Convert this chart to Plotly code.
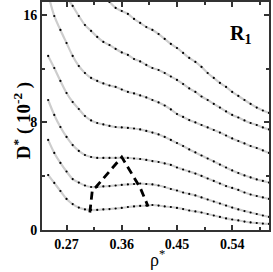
import plotly.graph_objects as go

rho = [0.24, 0.25, 0.26, 0.27, 0.28, 0.29, 0.30, 0.31, 0.32, 0.33, 0.34, 0.35,
       0.36, 0.37, 0.38, 0.39, 0.40, 0.41, 0.42, 0.43, 0.44, 0.45, 0.46, 0.47,
       0.48, 0.49, 0.50, 0.51, 0.52, 0.53, 0.54, 0.55, 0.56, 0.57, 0.58, 0.59, 0.60]

d1 = [4.09, 3.50, 2.90, 2.31, 1.93, 1.67, 1.53, 1.49, 1.49, 1.53, 1.56, 1.60,
      1.64, 1.71, 1.75, 1.79, 1.82, 1.86, 1.82, 1.75, 1.71, 1.64, 1.56, 1.45,
      1.38, 1.30, 1.19, 1.08, 0.97, 0.86, 0.78, 0.71, 0.63, 0.56, 0.52, 0.48, 0.45]
d2 = [6.70, 5.73, 4.99, 4.35, 3.79, 3.53, 3.31, 3.20, 3.20, 3.24, 3.27, 3.31,
      3.35, 3.39, 3.42, 3.46, 3.42, 3.39, 3.31, 3.20, 3.05, 2.94, 2.79, 2.68,
      2.57, 2.42, 2.27, 2.12, 1.97, 1.82, 1.67, 1.53, 1.41, 1.30, 1.19, 1.08, 0.97]
d3 = [9.67, 8.56, 7.66, 6.92, 6.32, 5.88, 5.58, 5.43, 5.36, 5.36, 5.36, 5.36,
      5.36, 5.36, 5.32, 5.28, 5.21, 5.13, 5.06, 4.95, 4.84, 4.65, 4.50, 4.35,
      4.20, 4.02, 3.83, 3.65, 3.46, 3.27, 3.13, 2.98, 2.79, 2.64, 2.53, 2.42, 2.31]
d4 = [12.95, 12.05, 11.09, 10.19, 9.52, 9.00, 8.48, 8.15, 7.96, 7.85, 7.74, 7.66,
      7.63, 7.59, 7.55, 7.48, 7.37, 7.25, 7.11, 6.92, 6.70, 6.47, 6.25, 5.99,
      5.77, 5.54, 5.32, 5.10, 4.87, 4.65, 4.43, 4.24, 4.06, 3.91, 3.76, 3.65, 3.53]
d5 = [17.56, 15.92, 14.88, 13.91, 12.95, 12.20, 11.68, 11.31, 11.09, 10.90, 10.75, 10.64,
      10.45, 10.27, 10.16, 10.01, 9.86, 9.67, 9.49, 9.26, 8.97, 8.63, 8.41, 8.18,
      8.00, 7.81, 7.63, 7.44, 7.25, 7.03, 6.81, 6.62, 6.44, 6.25, 6.10, 5.92, 5.73]
d6 = [None, None, 18.2, 17.34, 16.67, 15.92, 15.25, 14.81, 14.36, 13.99, 13.76, 13.47,
      13.21, 13.02, 12.72, 12.54, 12.28, 12.05, 11.90, 11.68, 11.42, 11.16, 10.86, 10.53,
      10.27, 9.93, 9.67, 9.38, 9.11, 8.82, 8.56, 8.37, 8.15, 7.96, 7.81, 7.63, 7.48]
d7 = [None, None, None, None, None, None, None, None, None, 17.4, 16.96, 16.52,
      16.29, 16.07, 15.70, 15.40, 15.10, 14.88, 14.58, 14.21, 13.84, 13.54, 13.17, 12.80,
      12.50, 12.13, 11.68, 11.31, 10.94, 10.64, 10.27, 9.97, 9.67, 9.38, 9.11, 8.89, 8.71]

dash_rho = [0.308, 0.312, 0.318, 0.360, 0.390, 0.403]
dash_d = [1.30, 2.95, 3.20, 5.42, 3.15, 1.75]

xticks = [0.27, 0.36, 0.45, 0.54]
yticks = [0, 8, 16]

fig = go.Figure()
for d in [d1, d2, d3, d4, d5, d6, d7]:
    fig.add_trace(go.Scatter(x=rho, y=d, mode="lines", line=dict(color="#cdcdcd", width=2.2, shape="spline"),
                             hoverinfo="skip", showlegend=False))
for d in [d1, d2, d3, d4, d5, d6, d7]:
    fig.add_trace(go.Scatter(x=rho, y=d, mode="markers", marker=dict(color="black", size=2.2),
                             showlegend=False))
fig.add_trace(go.Scatter(x=dash_rho, y=dash_d, mode="lines",
                         line=dict(color="black", width=2.8, dash="8px,5px"), showlegend=False))

font_serif = "Liberation Serif, Times New Roman, serif"
axis_common = dict(showline=True, linecolor="#333", linewidth=2, mirror="ticks",
                   ticks="inside", ticklen=5, tickwidth=1.5, tickcolor="#333",
                   showgrid=False, zeroline=False, automargin=False,
                   tickfont=dict(family=font_serif, size=14, color="black", weight="bold"))
fig.update_layout(
    width=273, height=272,
    margin=dict(l=42, r=4, t=2, b=42),
    paper_bgcolor="white", plot_bgcolor="white",
    xaxis=dict(range=[0.23, 0.60], tickvals=xticks, ticktext=[f"{v:.2f}" for v in xticks],
               minor=dict(tickvals=[0.315, 0.405, 0.495, 0.585], ticks="inside", ticklen=3,
                          tickcolor="#333", tickwidth=1.5),
               **axis_common),
    yaxis=dict(range=[0, 16.96], tickvals=yticks, ticktext=[str(v) for v in yticks],
               minor=dict(tickvals=[4, 12], ticks="inside", ticklen=3,
                          tickcolor="#333", tickwidth=1.5),
               **axis_common),
    annotations=[
        dict(text="R<sub>1</sub>", x=0.93, y=0.92, xref="paper", yref="paper",
             showarrow=False, font=dict(family=font_serif, size=20, color="black", weight="bold")),
        dict(text="D<sup>*</sup> ( 10<sup>-2</sup> )", x=-0.085, y=0.48, xref="paper", yref="paper",
             textangle=-90, showarrow=False, xanchor="center", yanchor="middle",
             font=dict(family=font_serif, size=19, color="black", weight="bold")),
        dict(text="ρ<sup>*</sup>", x=0.51, y=-0.065, xref="paper", yref="paper",
             showarrow=False, xanchor="center", yanchor="top",
             font=dict(family=font_serif, size=18, color="black")),
    ],
)
fig.write_html("out.html", config={"displayModeBar": False},
               post_script="document.body.style.margin='0px';")
